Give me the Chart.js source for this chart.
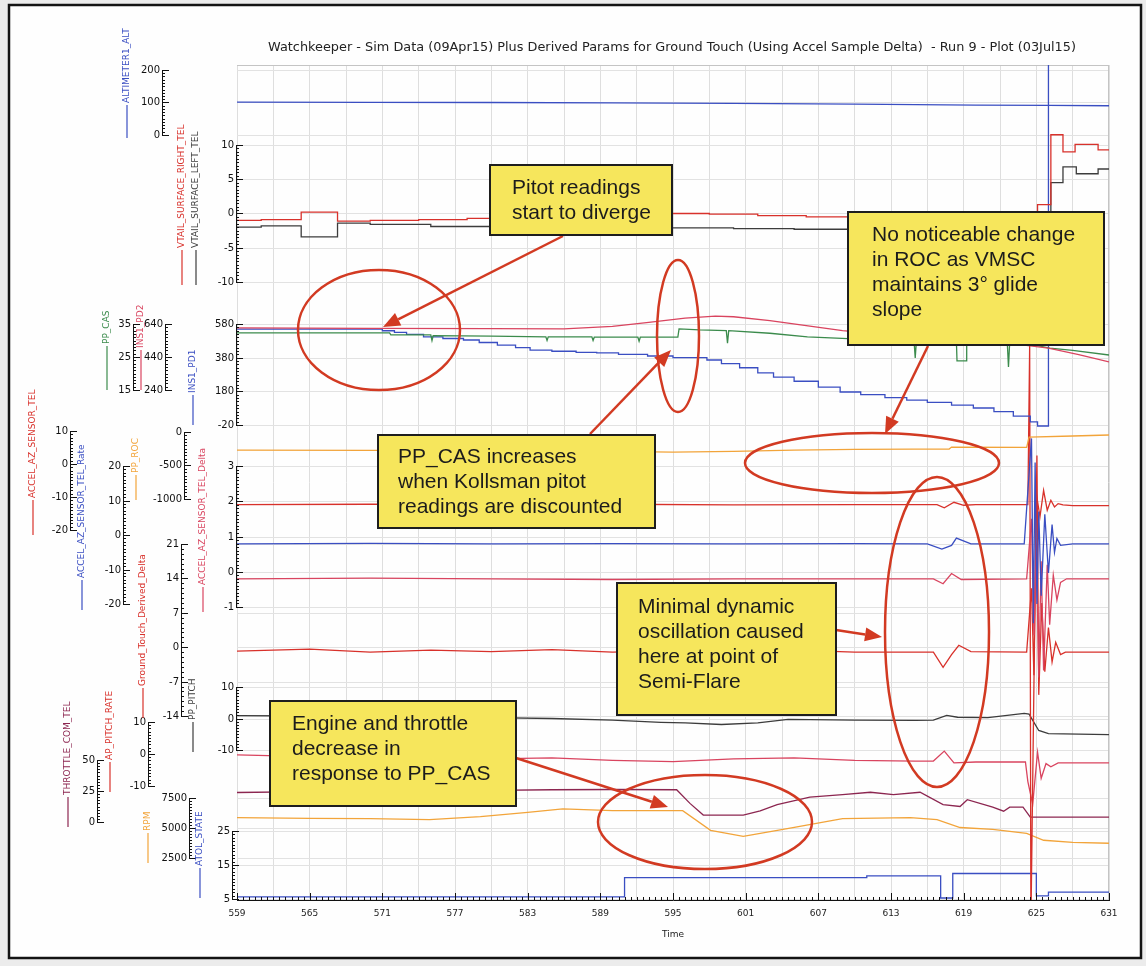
<!DOCTYPE html>
<html>
<head>
<meta charset="utf-8">
<script src="https://cdn.jsdelivr.net/npm/chart.js@4.4.1/dist/chart.umd.min.js"></script>
<style>
html, body { margin: 0; padding: 0; background: #ececec; }
canvas { display: block; }
</style>
</head>
<body>
<canvas id="c" width="1146" height="966"></canvas>
<script>
// データ
const timeTicks = [559, 565, 571, 577, 583, 589, 595, 601, 607, 613, 619, 625, 631]

const altTicks = [0, 100, 200]
const vtailTicks = [-10, -5, 0, 5, 10]
const casTicks = [15, 25, 35]
const pd2Ticks = [240, 440, 640]
const pd1Ticks = [-20, 180, 380, 580]
const azTicks = [-20, -10, 0, 10]
const rateTicks = [-20, -10, 0, 10, 20]
const rocTicks = [-1000, -500, 0]
const deltaTicks = [-1, 0, 1, 2, 3]
const gtdTicks = [-14, -7, 0, 7, 14, 21]
const pitchTicks = [-10, 0, 10]
const thrTicks = [0, 25, 50]
const aprTicks = [-10, 0, 10]
const rpmTicks = [2500, 5000, 7500]
const atolTicks = [5, 15, 25]

const altT = [559, 570, 580, 590, 600, 610, 620, 626, 631]
const altV = [101, 100.5, 100, 99, 97, 95, 92, 91, 90]

const vtrT = [559, 561, 564.3, 567.3, 570, 574, 578, 582, 586, 590, 594, 598, 602, 606, 610, 614, 618, 622, 625.1, 626.2, 627.2, 628.2, 630.1, 631]
const vtrV = [-1.0, -0.9, 0.2, -1.1, -1.0, -0.9, -0.7, -0.5, -0.3, -0.1, 0.0, -0.1, -0.3, -0.5, -0.7, -0.9, -1.1, -1.3, 1.3, 11.5, 9.0, 10.1, 9.3, 9.3]

const vtlT = [559, 561, 564.3, 567.3, 570, 575, 580, 585, 590, 595, 600, 605, 610, 615, 620, 626.2, 627.2, 628.3, 630.1, 631]
const vtlV = [-2.0, -1.8, -3.4, -1.4, -1.6, -1.9, -2.0, -2.0, -2.1, -2.1, -2.2, -2.3, -2.3, -2.4, -2.5, 4.5, 6.8, 5.8, 6.5, 6.5]

const casT = [559, 571.6, 571.7, 575.0, 575.1, 575.2, 580, 584.5, 584.6, 584.7, 588.3, 588.4, 588.5, 592.1, 592.2, 592.3, 595.4, 595.5, 597.2, 599.4, 599.5, 599.6, 603, 606.1, 609.9, 614.9, 615.0, 615.1, 618.4, 618.45, 619.2, 619.25, 622.6, 622.7, 622.8, 624, 626.1, 628, 631]
const casV = [32.3, 32.3, 31.7, 31.7, 30.0, 31.5, 31.3, 31.1, 30.0, 31.1, 31.1, 30.0, 31.0, 31.0, 29.8, 31.0, 31.0, 33.5, 33.2, 33.0, 29.2, 33.0, 32.2, 31.1, 30.5, 30.0, 24.7, 30.0, 29.8, 23.8, 23.8, 29.7, 29.5, 22.0, 29.5, 29.3, 27.7, 27.0, 25.6]

const pd2T = [559, 570, 580, 586, 590, 593, 596, 598.5, 600, 603, 606, 609, 612, 615, 618, 621, 624, 626, 628.5, 631]
const pd2V = [616, 614, 612, 610, 625, 650, 675, 688, 684, 660, 630, 600, 580, 562, 545, 528, 512, 494, 455, 410]

const pd1T = [559, 570, 571, 572, 573, 574.4, 576, 577.7, 579, 580.5, 582, 583.2, 585, 587, 588.7, 590.5, 592.9, 595, 597.8, 599, 600.5, 602, 603.3, 605, 607, 608.8, 610.5, 612.5, 614.3, 616, 618, 619.8, 621.5, 623.1, 624.5, 625.1, 626.0, 631]
const pd1V = [550, 550, 540, 530, 518, 503, 494, 485, 470, 455, 440, 425, 418, 412, 408, 400, 390, 380, 366, 345, 320, 290, 265, 240, 205, 176, 160, 143, 128, 115, 98, 81, 60, 33, -2, -26, 3000, 3000]

const rocT = [559, 570, 580, 590, 595, 600, 605, 610, 615, 617.8, 618.0, 624.2, 624.4, 628, 631]
const rocV = [-270, -275, -280, -290, -300, -290, -270, -260, -255, -255, -225, -230, -75, -60, -45]

const azT = [559, 570, 580, 590, 600, 610, 616.8, 617.4, 618.2, 619.0, 620, 624.3, 624.45, 624.55, 625.0, 625.3, 625.6, 625.9, 626.2, 626.5, 626.8, 627.2, 628, 631]
const azV = [-12.3, -12.2, -12.4, -12.2, -12.4, -12.3, -12.3, -13.3, -11.6, -12.5, -12.3, -12.3, 36, -140, -9, -16, -8, -14, -11, -13, -12, -12.4, -12.6, -12.6]

const rateT = [559, 570, 580, 590, 600, 610, 616, 617.2, 618.0, 618.4, 619.6, 624.0, 624.6, 624.75, 624.9, 625.05, 625.2, 625.4, 625.7, 626.0, 626.3, 626.5, 626.7, 627.0, 628, 631]
const rateV = [-2.6, -2.4, -2.6, -2.5, -2.6, -2.5, -2.6, -4.1, -3.0, -0.9, -2.6, -2.6, 28, -25.6, 21, -20, 6.8, -17.6, 6, -11, 3, -5, -1, -3, -2.6, -2.6]

const deltaT = [559, 570, 580, 590, 600, 610, 616.5, 617.3, 618.0, 618.8, 624.2, 624.6, 624.8, 625.0, 625.2, 625.4, 625.6, 625.9, 626.1, 626.4, 626.7, 627.0, 627.5, 631]
const deltaV = [-0.2, -0.18, -0.2, -0.22, -0.2, -0.2, -0.2, -0.34, -0.05, -0.22, -0.2, 1.5, -1.8, 0.8, -3.0, 0.3, -2.8, 0.2, -1.5, -0.1, -0.8, -0.3, -0.2, -0.2]

const gtdT = [559, 565, 570, 575, 580, 585, 590, 595, 600, 605, 610, 616.5, 617.3, 618.0, 618.6, 619.6, 624.2, 624.6, 624.8, 625.05, 625.2, 625.45, 625.7, 626.0, 626.3, 626.6, 627.0, 627.4, 631]
const gtdV = [-0.8, -0.4, -1.0, -0.6, -0.9, -0.5, -1.0, -0.7, -0.9, -0.6, -1.0, -1.0, -4.1, -1.5, 0.4, -0.9, -1.0, 12, -5.7, 39, -9.7, 9, -5, 4, -3, 1, -1.5, -1.0, -1.0]

const pitchT = [559, 565, 570, 575, 580, 585, 590, 594, 596, 599, 602, 604.5, 610, 615, 616.5, 617.6, 618.5, 621, 624, 624.4, 625.2, 626.0, 631]
const pitchV = [0.9, 0.8, 0.9, 0.6, 0.3, 0.0, -0.5, -1.2, -1.4, -1.9, -1.4, -0.3, -0.5, -0.6, -0.5, 1.0, 0.4, 0.3, 1.6, 1.4, -3.8, -4.8, -5.1]

const aprT = [559, 565, 570, 575, 580, 585, 590, 595, 600, 605, 610, 615, 616.5, 617.4, 618.2, 620, 624.1, 624.3, 624.7, 625.1, 625.4, 625.8, 626.2, 626.8, 631]
const aprV = [-0.3, -0.8, -0.5, -1.0, -1.5, -1.2, -2.0, -2.4, -1.5, -1.2, -2.0, -2.2, -2.2, 0.9, -2.8, -2.5, -2.5, -8.6, -15.7, 0.6, -7.6, -3.0, -4.0, -2.8, -2.8]

const thrT = [559, 565, 570, 575, 580, 585, 590, 595.3, 596.4, 597.5, 600.8, 602.2, 603.6, 606.3, 609, 611.3, 613.2, 615.4, 617.3, 618.7, 619.3, 621.4, 622.3, 622.8, 623.9, 624.5, 631]
const thrV = [23.8, 24.5, 24.0, 25.0, 25.5, 26.0, 26.2, 26.0, 15, 5.6, 5.6, 9, 14, 20, 22, 24, 22, 24, 14, 12.5, 18, 12, 8.7, 12, 12, 4, 4]

const rpmT = [559, 565, 570, 574.9, 579.1, 583, 585.9, 590, 595.8, 598.1, 600.8, 604.9, 609.0, 614.6, 616.8, 618.7, 621.4, 624.2, 625.6, 628, 631]
const rpmV = [5860, 5800, 5780, 5700, 5940, 6300, 6600, 6450, 6440, 4800, 4300, 5040, 5780, 5860, 5700, 5040, 4880, 4550, 3980, 3800, 3730]

const atolT = [559, 591.0, 611.0, 617.1, 618.1, 625.0, 626.0, 631]
const atolV = [5.6, 11.3, 11.8, 5.3, 12.5, 5.9, 7.0, 7.0]

// レイアウト
const AREA = {left: 237, top: 65, right: 1109, bottom: 900}

const BLUE = '#3a4ec2'
const RED = '#d8312b'
const PINK = '#d9445f'
const GREEN = '#3b8b4c'
const ORANGE = '#f2a43a'
const MAROON = '#8c2650'
const DARK = '#3c3c3c'

// 軸: ticks, 目盛ピクセル位置, 描画x
const axes = [
    {id: 'yAlt', ticks: altTicks, yLo: 135, yHi: 70, x: 162, sub: 10, grid: true},
    {id: 'yVtail', ticks: vtailTicks, yLo: 282, yHi: 145, x: 236, sub: 10, grid: true},
    {id: 'yCas', ticks: casTicks, yLo: 390, yHi: 324, x: 133, sub: 10},
    {id: 'yPd2', ticks: pd2Ticks, yLo: 390, yHi: 324, x: 165, sub: 10},
    {id: 'yPd1', ticks: pd1Ticks, yLo: 425, yHi: 324, x: 236, sub: 10, grid: true},
    {id: 'yAz', ticks: azTicks, yLo: 530, yHi: 431, x: 70, sub: 10},
    {id: 'yRate', ticks: rateTicks, yLo: 604, yHi: 466, x: 123, sub: 10},
    {id: 'yRoc', ticks: rocTicks, yLo: 499, yHi: 432, x: 184, sub: 10},
    {id: 'yDelta', ticks: deltaTicks, yLo: 607, yHi: 466, x: 236, sub: 10, grid: true},
    {id: 'yGtd', ticks: gtdTicks, yLo: 716, yHi: 544, x: 181, sub: 7, grid: true},
    {id: 'yPitch', ticks: pitchTicks, yLo: 750, yHi: 687, x: 236, sub: 10, grid: true},
    {id: 'yThr', ticks: thrTicks, yLo: 822, yHi: 760, x: 97, sub: 10},
    {id: 'yApr', ticks: aprTicks, yLo: 786, yHi: 722, x: 148, sub: 10},
    {id: 'yRpm', ticks: rpmTicks, yLo: 858, yHi: 798, x: 189, sub: 10, grid: true},
    {id: 'yAtol', ticks: atolTicks, yLo: 899, yHi: 831, x: 232, sub: 10, grid: true}
]

const titles = [
    {text: 'ALTIMETER1_ALT', color: BLUE, x: 127, bottom: 138, dash: 33},
    {text: 'VTAIL_SURFACE_RIGHT_TEL', color: RED, x: 182, bottom: 285, dash: 35},
    {text: 'VTAIL_SURFACE_LEFT_TEL', color: DARK, x: 196, bottom: 285, dash: 35},
    {text: 'PP_CAS', color: GREEN, x: 107, bottom: 390, dash: 44},
    {text: 'INS1_PD2', color: PINK, x: 141, bottom: 390, dash: 40},
    {text: 'INS1_PD1', color: BLUE, x: 193, bottom: 425, dash: 30},
    {text: 'ACCEL_AZ_SENSOR_TEL', color: RED, x: 33, bottom: 535, dash: 35},
    {text: 'ACCEL_AZ_SENSOR_TEL_Rate', color: BLUE, x: 82, bottom: 610, dash: 30},
    {text: 'PP_ROC', color: ORANGE, x: 136, bottom: 500, dash: 25},
    {text: 'ACCEL_AZ_SENSOR_TEL_Delta', color: PINK, x: 203, bottom: 612, dash: 25},
    {text: 'Ground_Touch_Derived_Delta', color: RED, x: 143, bottom: 718, dash: 30},
    {text: 'PP_PITCH', color: DARK, x: 193, bottom: 752, dash: 30},
    {text: 'THROTTLE_COM_TEL', color: MAROON, x: 68, bottom: 827, dash: 30},
    {text: 'AP_PITCH_RATE', color: RED, x: 110, bottom: 792, dash: 30},
    {text: 'RPM', color: ORANGE, x: 148, bottom: 863, dash: 30},
    {text: 'ATOL_STATE', color: BLUE, x: 200, bottom: 898, dash: 30}
]

const series = [
    {t: altT, v: altV, axis: 'yAlt', color: BLUE},
    {t: vtrT, v: vtrV, axis: 'yVtail', color: RED, stepped: true},
    {t: vtlT, v: vtlV, axis: 'yVtail', color: DARK, stepped: true},
    {t: pd2T, v: pd2V, axis: 'yPd2', color: PINK},
    {t: casT, v: casV, axis: 'yCas', color: GREEN},
    {t: pd1T, v: pd1V, axis: 'yPd1', color: BLUE, stepped: true},
    {t: rocT, v: rocV, axis: 'yRoc', color: ORANGE},
    {t: rateT, v: rateV, axis: 'yRate', color: BLUE},
    {t: deltaT, v: deltaV, axis: 'yDelta', color: PINK},
    {t: gtdT, v: gtdV, axis: 'yGtd', color: RED},
    {t: azT, v: azV, axis: 'yAz', color: RED},
    {t: pitchT, v: pitchV, axis: 'yPitch', color: DARK},
    {t: aprT, v: aprV, axis: 'yApr', color: PINK},
    {t: thrT, v: thrV, axis: 'yThr', color: MAROON},
    {t: rpmT, v: rpmV, axis: 'yRpm', color: ORANGE},
    {t: atolT, v: atolV, axis: 'yAtol', color: BLUE, stepped: true}
]

const notes = [
    {lines: ['Pitot readings', 'start to diverge'], box: [490, 165, 182, 70], tx: 512, ty: 188},
    {lines: ['No noticeable change', 'in ROC as VMSC', 'maintains 3\u00b0 glide', 'slope'], box: [848, 212, 256, 133], tx: 872, ty: 235},
    {lines: ['PP_CAS increases', 'when Kollsman pitot', 'readings are discounted'], box: [378, 435, 277, 93], tx: 398, ty: 457},
    {lines: ['Minimal dynamic', 'oscillation caused', 'here at point of', 'Semi-Flare'], box: [617, 583, 219, 132], tx: 638, ty: 607},
    {lines: ['Engine and throttle', 'decrease in', 'response to PP_CAS'], box: [270, 701, 246, 105], tx: 292, ty: 724}
]
const arrows = [
    [563, 236, 383, 327],
    [928, 346, 885, 434],
    [590, 434, 671, 350],
    [836, 630, 882, 637],
    [516, 758, 668, 807]
]
const ellipses = [
    [379, 330, 81, 60],
    [872, 463, 127, 30],
    [678, 336, 21, 76],
    [937, 632, 52, 155],
    [705, 822, 107, 47]
]

const chartTitle = 'Watchkeeper - Sim Data (09Apr15) Plus Derived Params for Ground Touch (Using Accel Sample Delta)  - Run 9 - Plot (03Jul15)'

function axisRange(a){
    const lo = a.ticks[0]
    const hi = a.ticks[a.ticks.length-1]
    const vpp = (hi-lo)/(a.yLo-a.yHi)
    return {min: lo-(AREA.bottom-a.yLo)*vpp, max: hi+(a.yHi-AREA.top)*vpp}
}

function line(ctx, x1, y1, x2, y2){
    ctx.beginPath()
    ctx.moveTo(x1, y1)
    ctx.lineTo(x2, y2)
    ctx.stroke()
}

function drawAxis(ctx, chart, a){
    const sc = chart.scales[a.id]
    const n = a.ticks.length
    ctx.strokeStyle = '#111'
    ctx.lineWidth = 1
    line(ctx, a.x+0.5, sc.getPixelForValue(a.ticks[0]), a.x+0.5, sc.getPixelForValue(a.ticks[n-1]))
    ctx.fillStyle = '#111'
    ctx.font = '10px "DejaVu Sans"'
    ctx.textAlign = 'right'
    ctx.textBaseline = 'middle'
    for(let i=0; i<n; i++){
        const y = Math.round(sc.getPixelForValue(a.ticks[i]))+0.5
        line(ctx, a.x, y, a.x+7, y)
        ctx.fillText(String(a.ticks[i]), a.x-2, y)
        if(i<n-1){
            for(let k=1; k<a.sub; k++){
                const v = a.ticks[i]+(a.ticks[i+1]-a.ticks[i])*k/a.sub
                const ym = Math.round(sc.getPixelForValue(v))+0.5
                line(ctx, a.x, ym, a.x+3, ym)
            }
        }
    }
}

function drawTitle(ctx, t){
    ctx.save()
    ctx.translate(t.x, t.bottom)
    ctx.rotate(-Math.PI/2)
    ctx.strokeStyle = t.color
    ctx.lineWidth = 1.2
    line(ctx, 0, 0, t.dash, 0)
    ctx.fillStyle = t.color
    ctx.font = '9px "DejaVu Sans"'
    ctx.textAlign = 'left'
    ctx.textBaseline = 'middle'
    ctx.fillText(t.text, t.dash+2, 0)
    ctx.restore()
}

function drawArrow(ctx, a){
    const [x1, y1, x2, y2] = a
    const ang = Math.atan2(y2-y1, x2-x1)
    const hl = 17, hw = 7
    const bx = x2-hl*Math.cos(ang), by = y2-hl*Math.sin(ang)
    ctx.strokeStyle = '#d23a22'
    ctx.fillStyle = '#d23a22'
    ctx.lineWidth = 2.5
    line(ctx, x1, y1, bx, by)
    ctx.beginPath()
    ctx.moveTo(x2, y2)
    ctx.lineTo(bx+hw*Math.sin(ang), by-hw*Math.cos(ang))
    ctx.lineTo(bx-hw*Math.sin(ang), by+hw*Math.cos(ang))
    ctx.closePath()
    ctx.fill()
}

const overlay = {
    id: 'overlay',
    beforeDraw(chart){
        const ctx = chart.ctx
        ctx.save()
        ctx.fillStyle = '#ececec'
        ctx.fillRect(0, 0, chart.width, chart.height)
        ctx.fillStyle = '#fefefe'
        ctx.fillRect(9, 5, 1132, 953)
        ctx.restore()
    },
    beforeDatasetsDraw(chart){
        const ctx = chart.ctx
        const ca = chart.chartArea
        ctx.save()
        ctx.strokeStyle = '#e2e2e2'
        ctx.lineWidth = 1
        axes.filter(a => a.grid).forEach(a => {
            const sc = chart.scales[a.id]
            a.ticks.forEach(v => {
                const y = Math.round(sc.getPixelForValue(v))+0.5
                line(ctx, ca.left, y, ca.right, y)
            })
        })
        ctx.strokeStyle = '#c4c4c4'
        line(ctx, ca.left, ca.top+0.5, ca.right, ca.top+0.5)
        line(ctx, ca.right-0.5, ca.top, ca.right-0.5, ca.bottom)
        ctx.restore()
    },
    afterDraw(chart){
        const ctx = chart.ctx
        const ca = chart.chartArea
        const xs = chart.scales.x
        ctx.save()

        // x軸の目盛
        ctx.strokeStyle = '#111'
        ctx.lineWidth = 1
        for(let t=559; t<=631; t+=0.5){
            const x = Math.round(xs.getPixelForValue(t))+0.5
            const len = timeTicks.includes(t) ? 7 : 3
            line(ctx, x, ca.bottom, x, ca.bottom-len)
        }

        axes.forEach(a => drawAxis(ctx, chart, a))
        titles.forEach(t => drawTitle(ctx, t))

        // タイトル
        ctx.fillStyle = '#222'
        ctx.font = '12px "DejaVu Sans"'
        ctx.textAlign = 'center'
        ctx.textBaseline = 'middle'
        const w = ctx.measureText(chartTitle).width
        ctx.save()
        ctx.translate(672, 48)
        ctx.scale(808/w, 1)
        ctx.fillText(chartTitle, 0, 0)
        ctx.restore()

        // 注記
        ctx.strokeStyle = '#d23a22'
        ctx.lineWidth = 2.5
        ellipses.forEach(e => {
            ctx.beginPath()
            ctx.ellipse(e[0], e[1], e[2], e[3], 0, 0, Math.PI*2)
            ctx.stroke()
        })
        arrows.forEach(a => drawArrow(ctx, a))
        notes.forEach(n => {
            const [bx, by, bw, bh] = n.box
            ctx.fillStyle = '#f6e65c'
            ctx.fillRect(bx, by, bw, bh)
            ctx.strokeStyle = '#1e1e1e'
            ctx.lineWidth = 2
            ctx.strokeRect(bx, by, bw, bh)
            ctx.fillStyle = '#1c1c1c'
            ctx.font = '21px "Liberation Sans"'
            ctx.textAlign = 'left'
            ctx.textBaseline = 'middle'
            n.lines.forEach((s, i) => ctx.fillText(s, n.tx, n.ty+i*25))
        })

        // 枠
        ctx.strokeStyle = '#141414'
        ctx.lineWidth = 2.5
        ctx.strokeRect(9, 5, 1132, 953)
        ctx.restore()
    }
}

const scales = {
    x: {
        type: 'linear',
        min: 559,
        max: 631,
        afterBuildTicks: s => {
            const arr = []
            for(let t=559; t<=631; t+=3) arr.push({value: t})
            s.ticks = arr
        },
        afterFit: s => { s.height = 40 },
        grid: {color: '#dedede', lineWidth: 1, drawTicks: false},
        border: {display: true, color: '#111', width: 1},
        ticks: {
            autoSkip: false,
            maxRotation: 0,
            padding: 8,
            color: '#222',
            font: {family: 'DejaVu Sans', size: 9},
            callback: v => timeTicks.includes(v) ? String(v) : ''
        },
        title: {display: true, text: 'Time', color: '#222', font: {family: 'DejaVu Sans', size: 9}, padding: {top: 2, bottom: 0}}
    }
}
axes.forEach(a => {
    const r = axisRange(a)
    scales[a.id] = {type: 'linear', axis: 'y', position: 'left', display: false, min: r.min, max: r.max}
})

new Chart(document.getElementById('c'), {
    type: 'line',
    data: {
        datasets: series.map(s => ({
            data: s.t.map((t, i) => ({x: t, y: s.v[i]})),
            yAxisID: s.axis,
            borderColor: s.color,
            borderWidth: 1.3,
            pointRadius: 0,
            tension: 0,
            stepped: s.stepped ? 'before' : false,
            fill: false
        }))
    },
    options: {
        responsive: false,
        animation: false,
        devicePixelRatio: 1,
        layout: {padding: {left: AREA.left, top: AREA.top, right: 1146-AREA.right, bottom: 966-AREA.bottom-40}},
        plugins: {legend: {display: false}, tooltip: {enabled: false}},
        scales: scales
    },
    plugins: [overlay]
})
</script>
</body>
</html>
